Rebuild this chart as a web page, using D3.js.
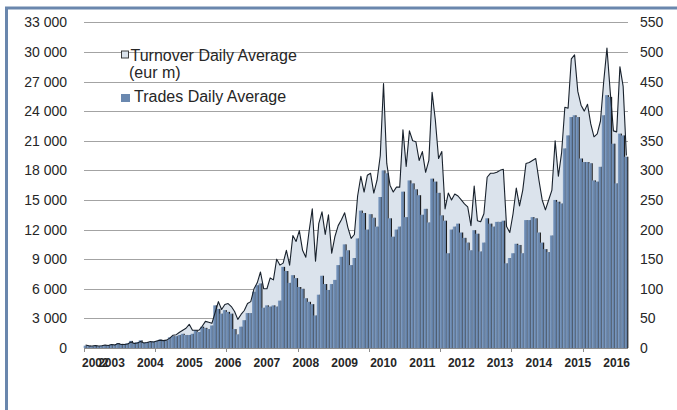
<!DOCTYPE html>
<html><head><meta charset="utf-8">
<script src="https://cdn.jsdelivr.net/npm/d3@7"></script>
<style>
body{margin:0;background:#fff}
svg{display:block}
text{font-family:"Liberation Sans",Arial,Helvetica,sans-serif;fill:#262626}
</style>
</head><body>
<svg id="chart" width="677" height="410"></svg>
<script>
// ---------- DATA ----------
const firstMonth = "2002-05";               // first category (monthly)
const turnoverLabel = ["Turnover Daily Average", "(eur m)"];
const tradesLabel = "Trades Daily Average";

// Turnover Daily Average (eur m) — left axis
const turnover = [
  300,220,200,250,200,230,300,250,
  350,300,450,350,350,400,600,450,500,650,500,550,
  650,600,700,800,750,800,1000,1300,1350,1600,1800,2000,
  2400,1800,1800,1800,2200,2700,2600,2500,3600,4700,3900,4400,
  4500,4200,3700,2900,3400,3800,4500,4700,6000,6600,7700,6000,
  6000,7100,6900,9000,8400,8600,9900,8400,11400,10800,11900,9900,
  9200,11800,14100,8800,12600,13800,11500,13500,9600,11300,12400,13000,
  13700,12200,11100,11500,15400,17400,15800,17500,17700,15700,17000,19500,
  26800,18700,16500,15800,16300,16300,22100,18400,22000,21000,20900,19000,
  19900,17800,19000,25900,23100,19200,19900,14100,15700,15000,15600,15400,
  15000,14600,14300,12400,16400,12900,12800,13600,17300,17700,17700,17800,
  18000,18100,12300,11700,13600,16200,14400,16000,18700,18800,19000,19200,
  17000,15000,14000,15000,16000,21000,17400,19800,24400,24300,29300,29700,
  26000,24600,24000,24700,22700,21400,21700,23000,27000,30400,26000,22000,
  21900,28500,26500,19500
];

// Trades Daily Average — right axis
const trades = [
  4,4,3,4,3,4,5,5,
  6,6,8,7,7,8,12,9,10,13,9,10,
  10,11,12,14,12,13,18,20,20,22,24,22,
  22,24,30,27,36,34,32,38,72,66,58,64,
  61,58,32,23,36,47,59,59,95,106,109,68,
  72,70,72,70,80,137,130,110,123,118,103,100,
  84,78,74,55,90,122,108,98,108,115,140,154,
  175,165,140,152,185,232,228,200,226,220,205,255,
  300,295,219,188,200,205,264,221,283,278,268,258,
  225,235,212,286,281,262,224,215,160,200,205,210,
  195,186,178,165,199,193,163,178,219,210,205,213,
  213,215,143,152,160,176,174,160,216,216,221,219,
  195,178,167,162,190,250,247,244,337,359,390,393,
  390,320,314,314,312,283,281,306,393,427,424,345,
  278,362,359,323
];

const leftTicks = [0,3000,6000,9000,12000,15000,18000,21000,24000,27000,30000,33000];
const rightTicks = [0,50,100,150,200,250,300,350,400,450,500,550];
const xLabelCats = ["2002-08","2003-01","2004-01","2005-01","2006-01","2007-01","2008-01","2009-01","2010-01","2011-01","2012-01","2013-01","2014-01","2015-01","2016-01"];
const xLabelTexts = ["2002","2003","2004","2005","2006","2007","2008","2009","2010","2011","2012","2013","2014","2015","2016"];
const tickEvery = 22;

// ---------- BUILD CATEGORIES ----------
const [fy, fm] = firstMonth.split("-").map(Number);
const months = turnover.map((d, i) => {
  const m = fm - 1 + i;
  return (fy + Math.floor(m / 12)) + "-" + String(m % 12 + 1).padStart(2, "0");
});

// ---------- LAYOUT ----------
const svg = d3.select("#chart");
const L = 84, R = 628, T = 22.3, B = 348;
const x = d3.scaleBand().domain(months).range([L, R]).padding(0);
const bw = x.bandwidth();
const yL = d3.scaleLinear().domain([0, 33000]).range([B, T]);
const yR = d3.scaleLinear().domain([0, 550]).range([B, T]);
const fmt = v => d3.format(",")(v).replace(/,/g, " ");

// frame
svg.append("rect").attr("x", 6.5).attr("y", 8).attr("width", 700).attr("height", 420)
  .attr("fill", "none").attr("stroke", "#6a87ad").attr("stroke-width", 3);

// gridlines
svg.append("g").selectAll("line").data(leftTicks.filter(t => t > 0)).join("line")
  .attr("x1", L).attr("x2", R)
  .attr("y1", d => Math.round(yL(d)) + 0.5).attr("y2", d => Math.round(yL(d)) + 0.5)
  .attr("stroke", "#a3a3a3").attr("stroke-width", 1);

// turnover area
const cx = (d, i) => x(months[i]) + bw / 2;
svg.append("path").datum(turnover)
  .attr("d", d3.area().x(cx).y0(B).y1(d => yL(d)))
  .attr("fill", "#dbe3ec");

// trades bars
const defs = svg.append("defs");
const grad = defs.append("linearGradient").attr("id", "barGrad")
  .attr("x1", "0").attr("x2", "1").attr("y1", "0").attr("y2", "0");
grad.append("stop").attr("offset", "0%").attr("stop-color", "#86a2c6");
grad.append("stop").attr("offset", "55%").attr("stop-color", "#6a88af");
grad.append("stop").attr("offset", "100%").attr("stop-color", "#5c799f");

const gBars = svg.append("g");
trades.forEach((v, i) => {
  const x0 = x(months[i]);
  const yt = yR(v);
  gBars.append("rect").attr("x", x0 + 2.3).attr("y", yt).attr("width", 1.3)
    .attr("height", B - yt).attr("fill", "#1b1b1b");
  gBars.append("rect").attr("x", x0 - 0.35).attr("y", yt).attr("width", 2.85)
    .attr("height", B - yt).attr("fill", "url(#barGrad)");
});

// turnover line
svg.append("path").datum(turnover)
  .attr("d", d3.line().x(cx).y(d => yL(d)))
  .attr("fill", "none").attr("stroke", "#18212c").attr("stroke-width", 1.1)
  .attr("stroke-linejoin", "round");

// x axis line and ticks
svg.append("line").attr("x1", L).attr("x2", R).attr("y1", B + 0.5).attr("y2", B + 0.5)
  .attr("stroke", "#8c8c8c");
const tickCats = months.filter((m, i) => i % tickEvery === 0);
svg.append("g").selectAll("line").data(tickCats).join("line")
  .attr("x1", d => Math.round(x(d)) + 0.5).attr("x2", d => Math.round(x(d)) + 0.5)
  .attr("y1", B).attr("y2", B + 4).attr("stroke", "#8c8c8c");

// left axis labels
svg.append("g").selectAll("text").data(leftTicks).join("text")
  .attr("x", 67).attr("y", d => yL(d) + 5).attr("text-anchor", "end")
  .style("font-size", "14px").text(d => fmt(d));

// right axis labels
svg.append("g").selectAll("text").data(rightTicks).join("text")
  .attr("x", 640).attr("y", d => yR(d) + 5).attr("text-anchor", "start")
  .style("font-size", "14px").text(d => d);

// x labels
svg.append("g").selectAll("text").data(xLabelCats).join("text")
  .attr("x", d => x(d) + bw / 2).attr("y", 367).attr("text-anchor", "middle")
  .style("font-size", "12px").style("font-weight", "bold")
  .text((d, i) => xLabelTexts[i]);

// legend
const lg = svg.append("g");
lg.append("rect").attr("x", 121.5).attr("y", 51).attr("width", 7).attr("height", 7)
  .attr("fill", "#dbe3ec").attr("stroke", "#2a2a2a").attr("stroke-width", 0.9);
lg.append("text").attr("x", 130.5).attr("y", 60.5).style("font-size", "16px").text(turnoverLabel[0]);
lg.append("text").attr("x", 129).attr("y", 78).style("font-size", "16px").text(turnoverLabel[1]);
lg.append("rect").attr("x", 121).attr("y", 94).attr("width", 9).attr("height", 8)
  .attr("fill", "#6a88af");
lg.append("text").attr("x", 134).attr("y", 101.7).style("font-size", "16px").text(tradesLabel);
</script>
</body></html>
